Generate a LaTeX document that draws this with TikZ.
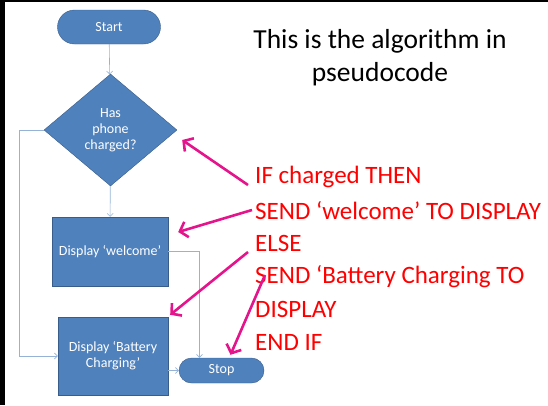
\documentclass[tikz,border=0pt]{standalone}
\usepackage{fontspec}
\setmainfont{Carlito}
\usetikzlibrary{shapes.geometric,arrows.meta}
\definecolor{boxblue}{RGB}{79,129,189}
\definecolor{boxedge}{RGB}{56,93,138}
\definecolor{linkblue}{RGB}{149,179,215}
\definecolor{pinkarrow}{RGB}{230,20,140}
\tikzset{block/.style={
  rectangle,
  draw=boxedge,fill=boxblue,thin,
  text=white,align=center,font=\fontsize{14}{16}\selectfont}}
\tikzset{terminal/.style={block,rounded corners=#1}}
\tikzset{decision/.style={block,diamond,inner sep=0pt}}
\tikzset{flow/.style={draw=linkblue,semithick,-{Straight Barb[length=3pt,width=6pt]}}}
\tikzset{pointer/.style={draw=pinkarrow,line width=2.6pt,-{Straight Barb[length=7pt,width=16pt]}}}
\tikzset{codeline/.style={anchor=west,inner sep=0pt,text=red,font=\fontsize{25}{28}\selectfont}}

\begin{document}
\begin{tikzpicture}[x={(1pt,0pt)},y={(0pt,-1pt)}]
  \useasboundingbox (0,0) rectangle (548,405);
  \fill[black] (0,0) rectangle (5,405);
  \fill[black] (0,0) rectangle (548,2);
  % flowchart
  \node[terminal=17pt,minimum width=103pt,minimum height=34pt] (start) at (109,27) {Start};
  \node[decision,minimum width=133pt,minimum height=112pt] (dec) at (110.5,130) {Has\\phone\\charged?};
  \node[block,minimum width=116pt,minimum height=69pt] (welcome) at (110,251.5) {Display `welcome'};
  \node[block,minimum width=110pt,minimum height=78pt] (battery) at (113,356) {Display `Battery\\Charging'};
  \node[terminal=12.5pt,minimum width=85pt,minimum height=25pt] (stop) at (221.5,370.5) {Stop};
  \coordinate (lft) at (19,130);
  \draw[flow] (start) -- (dec);
  \draw[flow] (dec) -- (welcome);
  \draw[flow] (dec.west) -- (lft) |- (battery.west);
  \draw[flow] (welcome.east) -| ([xshift=-22pt]stop.north);
  \draw[flow] (battery.east |- stop.west) -- (stop.west);
  % title and pseudocode
  \node[align=center,font=\fontsize{27.5}{33}\selectfont] (title) at (380,58) {This is the algorithm in\\pseudocode};
  \foreach \n/\y/\l in {
      l1/177/{IF charged THEN},
      l2/211/{SEND `welcome' TO DISPLAY},
      l3/243/{ELSE},
      l4/277/{SEND `Battery Charging TO},
      l5/309/{DISPLAY},
      l6/342/{END IF} }
    \node[codeline] (\n) at (255,\y) {\l};
  \draw[pointer] ([shift={(-7,8)}]l1.west) -- ([shift={(5,10)}]dec.east);
  \draw[pointer] ([shift={(-3,-1)}]l2.west) -- ([shift={(10,-19.5)}]welcome.east);
  \draw[pointer] ([shift={(-7,9)}]l3.west) -- ([shift={(2,-2)}]battery.north east);
  \draw[pointer] ([shift={(10,-2)}]l4.west) -- ([shift={(9,-3)}]stop.north);
\end{tikzpicture}
\end{document}
